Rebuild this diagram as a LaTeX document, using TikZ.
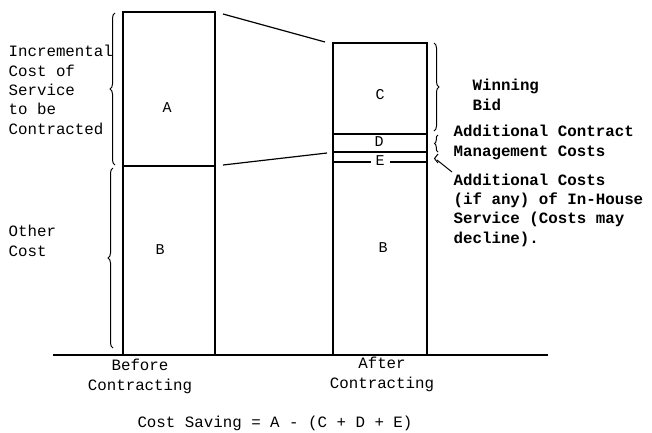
\documentclass[tikz,border=0pt]{standalone}
\usepackage{fontspec}
\setmonofont{Liberation Mono}
\usetikzlibrary{decorations.pathreplacing}
\begin{document}
\begin{tikzpicture}[x=1bp,y=-1bp,line width=1.2bp,
  txt/.style={font=\ttfamily\fontsize{15.8bp}{19.3bp}\selectfont, inner sep=0pt, align=left},
  btxt/.style={font=\ttfamily\bfseries\fontsize{15.8bp}{19.3bp}\selectfont, inner sep=0pt, align=left},
  lett/.style={font=\ttfamily\fontsize{15bp}{16bp}\selectfont, inner sep=1pt},
  bracelin/.style={decorate, decoration={brace, amplitude=5bp}, line width=1bp},
  smallbrace/.style={decorate, decoration={brace, amplitude=3.5bp}, line width=1bp}]
\useasboundingbox (0,0) rectangle (652,432);
% coordinates
\coordinate (LTL) at (123,12);  \coordinate (LTR) at (215,12);
\coordinate (LML) at (123,166); \coordinate (LMR) at (215,166);
\coordinate (LBL) at (123,355); \coordinate (LBR) at (215,355);
\coordinate (RTL) at (333,43);  \coordinate (RTR) at (427,43);
\coordinate (RCL) at (333,134); \coordinate (RCR) at (427,134);
\coordinate (RDL) at (333,152); \coordinate (RDR) at (427,152);
\coordinate (REL) at (333,162); \coordinate (RER) at (427,162);
\coordinate (RBL) at (333,355); \coordinate (RBR) at (427,355);
\coordinate (G1) at (53,355);   \coordinate (G2) at (548,355);
\coordinate (c1) at (223,14);   \coordinate (c2) at (325,42);
\coordinate (c3) at (223,165);  \coordinate (c4) at (327,153);
% ground
\draw (G1) -- (G2);
% left bar
\draw (LBL) -- (LTL) -- (LTR) -- (LBR);
\draw (LML) -- (LMR);
% right bar
\draw (RBL) -- (RTL) -- (RTR) -- (RBR);
\draw (RCL) -- (RCR);
\draw (RDL) -- (RDR);
\draw (REL) -- (RER);
% connectors
\draw (c1) -- (c2);
\draw (c3) -- (c4);
% letters
\node[lett] (A) at (167,108) {A};
\node[lett] (B1) at (160,250) {B};
\node[lett] (C) at (380,95) {C};
\node[lett] (D) at (379,142) {D};
\node[lett, fill=white, inner xsep=5bp, inner ysep=0pt] (E) at (380,161) {E};
\node[lett] (B2) at (383,248) {B};
% braces
\draw[bracelin] (115,165) -- (115,13);
\draw[bracelin] (113,348) -- (113,168);
\draw[bracelin] (434,43) -- (434,131);
\draw[smallbrace] (438,152) -- (438,135);
\draw[smallbrace] (438,163) -- (438,154);
\coordinate (e1) at (437,160); \coordinate (e2) at (452,172);
\draw[line width=1bp] (e1) -- (e2);
% texts (anchor = baseline of last line)
\node[txt, anchor=base west] (inc) at (8,134) {Incremental\\Cost of\\Service\\to be\\Contracted};
\node[txt, anchor=base west] (oth) at (8,256) {Other\\Cost};
\node[btxt, anchor=base west] (win) at (472,110) {Winning\\Bid};
\node[btxt, anchor=base west] (acm) at (453,156) {Additional Contract\\Management Costs};
\node[btxt, anchor=base west] (aci) at (453,243) {Additional Costs\\(if any) of In-House\\Service (Costs may\\decline).};
\node[txt, align=center, anchor=base] (bef) at (140,390) {Before\\Contracting};
\node[txt, align=center, anchor=base] (aft) at (382,388) {After\\Contracting};
\node[txt, anchor=base] (cs) at (275,427) {Cost Saving = A - (C + D + E)};
\end{tikzpicture}
\end{document}
